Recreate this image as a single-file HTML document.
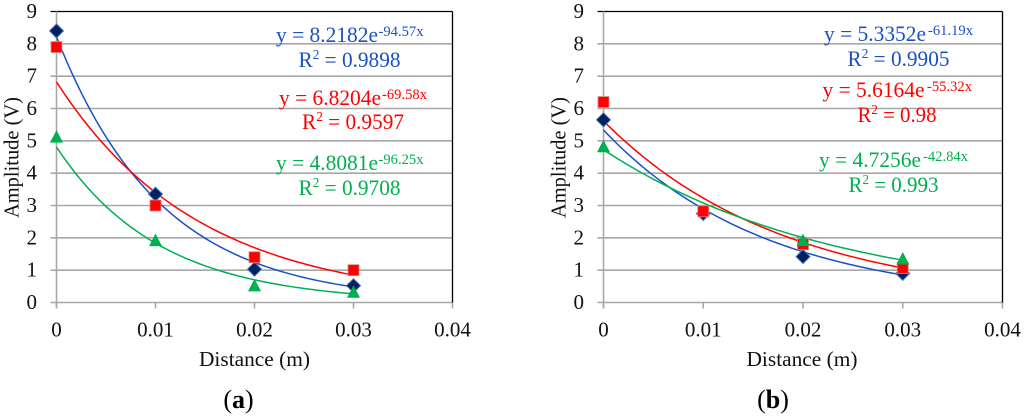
<!DOCTYPE html>
<html lang="en">
<head>
<meta charset="utf-8">
<title>Amplitude vs distance</title>
<style>
html,body{margin:0;padding:0;background:#fff;}
svg{display:block;font-family:"Liberation Serif",serif;}
</style>
</head>
<body>
<svg id="figure" width="1024" height="418" viewBox="0 0 1024 418" xmlns="http://www.w3.org/2000/svg">
  <rect width="1024" height="418" fill="#fff"/>
  <g id="chart-a"></g>
  <g id="chart-b"></g>

  <g font-size="22.5">
    <text fill="#1a50c4" x="276" y="42" textLength="102" lengthAdjust="spacingAndGlyphs">y = 8.2182e</text>
    <text fill="#1a50c4" x="378.500" y="36" font-size="15" textLength="45" lengthAdjust="spacingAndGlyphs">-94.57x</text>
    <text fill="#1a50c4" x="298.500" y="67" textLength="102" lengthAdjust="spacingAndGlyphs">R<tspan font-size="14" dy="-8">2</tspan><tspan dy="8"> = 0.9898</tspan></text>
    <text fill="#ff0000" x="279" y="105" textLength="102" lengthAdjust="spacingAndGlyphs">y = 6.8204e</text>
    <text fill="#ff0000" x="382" y="99" font-size="15" textLength="45" lengthAdjust="spacingAndGlyphs">-69.58x</text>
    <text fill="#ff0000" x="302" y="129" textLength="102" lengthAdjust="spacingAndGlyphs">R<tspan font-size="14" dy="-8">2</tspan><tspan dy="8"> = 0.9597</tspan></text>
    <text fill="#00b050" x="276" y="170" textLength="102" lengthAdjust="spacingAndGlyphs">y = 4.8081e</text>
    <text fill="#00b050" x="378.500" y="164" font-size="15" textLength="45" lengthAdjust="spacingAndGlyphs">-96.25x</text>
    <text fill="#00b050" x="298.500" y="195" textLength="102" lengthAdjust="spacingAndGlyphs">R<tspan font-size="14" dy="-8">2</tspan><tspan dy="8"> = 0.9708</tspan></text>
  </g>
  <g font-size="22.5">
    <text fill="#1a50c4" x="824" y="41" textLength="102" lengthAdjust="spacingAndGlyphs">y = 5.3352e</text>
    <text fill="#1a50c4" x="928" y="35" font-size="15" textLength="45" lengthAdjust="spacingAndGlyphs">-61.19x</text>
    <text fill="#1a50c4" x="847.500" y="66" textLength="102" lengthAdjust="spacingAndGlyphs">R<tspan font-size="14" dy="-8">2</tspan><tspan dy="8"> = 0.9905</tspan></text>
    <text fill="#ff0000" x="822.500" y="97" textLength="102" lengthAdjust="spacingAndGlyphs">y = 5.6164e</text>
    <text fill="#ff0000" x="927" y="91" font-size="15" textLength="45" lengthAdjust="spacingAndGlyphs">-55.32x</text>
    <text fill="#ff0000" x="857.500" y="122" textLength="79" lengthAdjust="spacingAndGlyphs">R<tspan font-size="14" dy="-8">2</tspan><tspan dy="8"> = 0.98</tspan></text>
    <text fill="#00b050" x="819" y="167" textLength="102" lengthAdjust="spacingAndGlyphs">y = 4.7256e</text>
    <text fill="#00b050" x="923" y="161" font-size="15" textLength="45" lengthAdjust="spacingAndGlyphs">-42.84x</text>
    <text fill="#00b050" x="848.500" y="192" textLength="90" lengthAdjust="spacingAndGlyphs">R<tspan font-size="14" dy="-8">2</tspan><tspan dy="8"> = 0.993</tspan></text>
  </g>

  <text x="238.500" y="408" font-size="26" text-anchor="middle"><tspan>(</tspan><tspan font-weight="bold">a</tspan><tspan>)</tspan></text>
  <text x="773" y="408" font-size="26" text-anchor="middle"><tspan>(</tspan><tspan font-weight="bold">b</tspan><tspan>)</tspan></text>
</svg>
<script>
// Shared axis data
var xTicks = [0, 0.01, 0.02, 0.03, 0.04];
var xTickLabels = ['0', '0.01', '0.02', '0.03', '0.04'];
var yTicks = [0, 1, 2, 3, 4, 5, 6, 7, 8, 9];
var distances = [0, 0.01, 0.02, 0.03];

// Panel (a) measured values
var blueA = [8.4, 3.35, 1.03, 0.52];
var redA = [7.9, 3.0, 1.4, 1.0];
var greenA = [5.1, 1.9, 0.5, 0.3];
// Panel (a) printed trend coefficients
var blueTrendA = [8.2182, -94.57];
var redTrendA = [6.8204, -69.58];
var greenTrendA = [4.8081, -96.25];

// Panel (b) measured values; the green marker at 0.01 is not visible in the picture
var blueB = [5.65, 2.75, 1.42, 0.9];
var redB = [6.2, 2.82, 1.8, 1.07];
var greenB = [4.8, null, 1.9, 1.33];
// Panel (b) printed trend coefficients
var blueTrendB = [5.3352, -61.19];
var redTrendB = [5.6164, -55.32];
var greenTrendB = [4.7256, -42.84];

var NS = 'http://www.w3.org/2000/svg';
var BLUE = '#1a50c4', RED = '#ff0000', GREEN = '#00b050';

function make(parent, tag, attrs, text) {
  var el = document.createElementNS(NS, tag);
  for (var k in attrs) el.setAttribute(k, attrs[k]);
  if (text !== undefined) el.textContent = text;
  parent.appendChild(el);
  return el;
}

function drawChart(root, left, right, yAxisTitleX, titleCenterX, series) {
  var top = 11.5, bottom = 302.5;
  function sx(v) { return left + (v / 0.04) * (right - left); }
  function sy(v) { return bottom - (v / 9) * (bottom - top); }

  yTicks.forEach(function (t) {
    var g = make(root, 'line', {x1: left - 6, x2: right, y1: sy(t), y2: sy(t),
      stroke: t === 9 ? '#000' : '#a8a8a8', 'stroke-width': t === 9 ? 1.3 : 1.6});
    
    
    var tick = make(root, 'text', {x: left - 19.5, y: sy(t) + 6.5, 'font-size': 21, 'text-anchor': 'end', fill: '#111'}, String(t));
    
    
  });

  var yAxis = make(root, 'line', {x1: left, x2: left, y1: top, y2: bottom + 6, stroke: '#a8a8a8', 'stroke-width': 1.6});
  
  
  var border = make(root, 'line', {x1: right, x2: right, y1: top, y2: bottom, stroke: '#000', 'stroke-width': 1.3});
  
  

  xTicks.forEach(function (t, i) {
    var mark = make(root, 'line', {x1: sx(t), x2: sx(t), y1: bottom, y2: bottom + 6, stroke: '#a8a8a8', 'stroke-width': 1.6});
    
    
    var label = make(root, 'text', {x: sx(t), y: 336.5, 'font-size': 21, 'text-anchor': 'middle', fill: '#111'}, xTickLabels[i]);
    
    
  });

  var xTitle = make(root, 'text', {x: titleCenterX, y: 366, 'font-size': 21, 'text-anchor': 'middle', fill: '#111', textLength: 111, lengthAdjust: 'spacingAndGlyphs'}, 'Distance (m)');
  
  
  var yTitle = make(root, 'text', {x: 0, y: 0, 'font-size': 21, 'text-anchor': 'middle', fill: '#111', textLength: 121, lengthAdjust: 'spacingAndGlyphs',
    transform: 'translate(' + yAxisTitleX + ' 157.500) rotate(-90)'}, 'Amplitude (V)');
  
  

  // Trend curves from the printed equations
  series.forEach(function (s) {
    var d = '';
    for (var i = 0; i <= 60; i++) {
      var x = distances[distances.length - 1] * i / 60;
      var y = s.trend[0] * Math.exp(s.trend[1] * x);
      d += (i ? 'L' : 'M') + sx(x).toFixed(2) + ' ' + sy(y).toFixed(2);
    }
    var path = make(root, 'path', {d: d, fill: 'none', stroke: s.color, 'stroke-width': 1.5});
    
    
  });

  // Markers
  series.forEach(function (s) {
    s.values.forEach(function (v, i) {
      if (v === null) return;
      var cx = sx(distances[i]), cy = sy(v), m;
      if (s.shape === 'diamond') {
        m = make(root, 'polygon', {points: [cx, cy - 7, cx + 7, cy, cx, cy + 7, cx - 7, cy].join(' '), fill: '#002060', stroke: '#4a76b4', 'stroke-width': 1});
      } else if (s.shape === 'square') {
        m = make(root, 'rect', {x: cx - 5.5, y: cy - 5.5, width: 11, height: 11, fill: '#ff0000', stroke: '#d98a8a', 'stroke-width': 0.8});
      } else {
        m = make(root, 'polygon', {points: [cx, cy - 7.5, cx + 6.5, cy + 5, cx - 6.5, cy + 5].join(' '), fill: '#00b050'});
      }
      
      
    });
  });
}

drawChart(document.getElementById('chart-a'), 56.5, 452.5, 18.5, 254.5, [
  {name: 'blue', color: BLUE, shape: 'diamond', values: blueA, trend: blueTrendA},
  {name: 'red', color: RED, shape: 'square', values: redA, trend: redTrendA},
  {name: 'green', color: GREEN, shape: 'triangle', values: greenA, trend: greenTrendA}
]);
drawChart(document.getElementById('chart-b'), 603.5, 1002.5, 565.5, 802, [
  {name: 'blue', color: BLUE, shape: 'diamond', values: blueB, trend: blueTrendB},
  {name: 'red', color: RED, shape: 'square', values: redB, trend: redTrendB},
  {name: 'green', color: GREEN, shape: 'triangle', values: greenB, trend: greenTrendB}
]);
</script>
</body>
</html>
